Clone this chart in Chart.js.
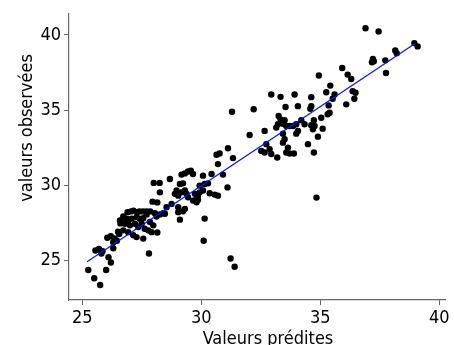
<!DOCTYPE html>
<html lang="fr">
<head>
<meta charset="utf-8">
<script src="https://cdn.jsdelivr.net/npm/chart.js@4/dist/chart.umd.min.js"></script>
<style>
  html, body { margin: 0; padding: 0; background: #fff; }
  #wrap { width: 454px; height: 345px; }
</style>
</head>
<body>
<div id="wrap"><canvas id="grafico" width="454" height="345"></canvas></div>
<script>
const predites = [
  25.25, 25.5, 25.75, 26.0, 26.2, 26.1, 26.3, 25.7, 25.8, 25.85, 25.55, 26.05, 26.2, 26.35, 26.3, 26.6, 26.75,
  26.9, 27.05, 27.15, 27.3, 27.4, 27.55, 27.7, 27.85, 27.8, 28.15, 27.95, 28.15, 28.0, 28.25, 30.1, 27.62,
  26.5, 26.45, 26.55,
  28.26, 28.40, 28.26, 28.12, 28.05, 26.72, 26.86, 26.93, 27.07, 27.28, 27.42, 27.56, 27.70, 26.58, 26.79,
  27.0, 27.21, 27.35, 27.49, 27.84, 27.98, 27.91, 26.72, 26.93, 27.14, 27.28, 27.56, 27.77,
  31.12, 30.64, 30.77, 31.33, 30.70, 28.68, 29.17, 29.31, 29.44, 29.56, 29.65, 30.07, 30.43, 30.91, 29.10,
  29.23, 29.93, 30.14, 30.28, 31.10, 28.96, 28.89, 29.03, 29.17, 29.31, 29.38, 29.44, 29.73, 29.86, 29.80,
  29.93, 30.07, 30.35, 30.56, 30.70, 28.75, 28.54, 28.47, 29.03, 29.31, 29.23, 29.03, 29.10, 30.14, 29.65,
  29.80, 29.86,
  32.94, 33.33, 33.92, 34.62, 33.54, 34.06, 32.20, 31.29, 33.25, 33.33, 33.50, 33.43, 33.57, 33.71, 33.85,
  33.99, 34.20, 34.34, 34.73, 33.22, 33.15, 32.66, 32.03, 34.06, 33.99, 33.43, 33.50, 33.43, 32.73, 32.52,
  32.66, 32.87, 32.94, 33.19, 33.64, 33.57, 33.71, 33.89, 34.48, 34.73,
  37.21, 37.17, 37.25, 35.92, 34.94, 36.15, 36.30, 35.42, 35.25, 35.60, 35.52, 36.36, 36.48, 36.43, 36.09,
  35.35, 34.62, 34.58, 35.39, 35.31, 35.04, 34.62, 34.76, 34.69, 35.10, 34.90,
  36.90, 37.45, 38.95, 39.09, 38.15, 38.21, 37.73, 37.76,
  31.23, 31.40, 34.84,
];
const observees = [
  24.35, 23.8, 23.35, 24.35, 24.85, 25.2, 25.8, 25.75, 25.45, 25.6, 25.65, 26.5, 26.6, 26.45, 26.2, 27.45, 27.5,
  28.2, 28.25, 28.3, 28.2, 28.25, 28.25, 28.25, 28.25, 25.45, 26.85, 28.9, 28.85, 30.15, 30.15, 26.3, 27.10,
  26.9, 26.3, 26.75,
  29.52, 28.13, 28.05, 27.91, 28.13, 27.91, 27.76, 27.65, 27.76, 27.87, 27.76, 27.80, 28.05, 27.65, 27.43,
  27.32, 27.43, 27.21, 27.43, 27.54, 27.32, 26.87, 26.99, 26.87, 26.66, 26.54, 26.44, 26.99,
  32.46, 32.02, 32.11, 31.80, 31.40, 30.41, 30.70, 30.78, 30.91, 30.96, 30.74, 30.63, 30.74, 30.70, 30.08,
  30.12, 29.97, 30.08, 30.12, 29.85, 29.64, 29.42, 29.30, 29.52, 29.64, 29.42, 29.19, 29.42, 29.30, 29.09,
  29.52, 29.64, 29.46, 29.37, 29.30, 28.75, 28.53, 28.09, 28.53, 28.42, 28.26, 28.20, 27.70, 27.77, 28.97,
  28.86, 29.02,
  36.04, 35.88, 36.04, 35.86, 35.20, 35.26, 35.05, 34.89, 34.60, 34.38, 34.32, 34.09, 33.94, 33.94, 33.94,
  34.05, 34.32, 34.05, 34.32, 34.05, 33.83, 33.61, 33.34, 33.61, 33.43, 33.43, 33.06, 32.83, 32.73, 32.28,
  32.17, 32.40, 32.07, 31.84, 32.50, 32.17, 32.11, 32.11, 32.73, 32.17,
  38.40, 38.18, 38.25, 37.80, 37.30, 37.36, 37.07, 36.63, 36.19, 36.04, 35.75, 36.26, 36.15, 35.75, 35.38,
  35.31, 35.26, 35.09, 34.82, 34.72, 34.49, 33.99, 33.94, 33.72, 33.76, 33.23,
  40.45, 40.23, 39.46, 39.24, 38.97, 38.79, 38.31, 37.47,
  25.11, 24.56, 29.17,
];
// droite de régression (extrémités lues)
const droiteX = [25.2, 39.0];
const droiteY = [24.9, 39.45];
const ticksX = [25, 30, 35, 40];
const ticksY = [25, 30, 35, 40];
const titreX = 'Valeurs prédites';
const titreY = 'valeurs observées';

(function () {
  const FONTE = "'DejaVu Sans Condensed', 'DejaVu Sans', sans-serif";
  const TAILLE = 18;
  const GRIS = '#666';
  const pts = predites.map((x, i) => ({ x, y: observees[i] }));
  const droite = droiteX.map((x, i) => ({ x, y: droiteY[i] }));

  const eixo = (ticks, min, max, fit) => ({
    type: 'linear', min, max,
    afterBuildTicks: (s) => { s.ticks = ticks.map(v => ({ value: v })); },
    afterFit: fit,
    grid: { drawOnChartArea: false, drawTicks: true, tickLength: 5, tickColor: GRIS, tickWidth: 1 },
    border: { display: true, color: GRIS, width: 1.2 },
    ticks: { color: '#000', padding: 3, font: { family: FONTE, size: TAILLE } },
  });

  // titres des axes : décalés comme sur la figure d'origine (pas centrés sur la zone)
  const titres = {
    id: 'titres',
    afterDraw(chart) {
      const { ctx, chartArea: a } = chart;
      ctx.save();
      ctx.fillStyle = '#000';
      ctx.font = `${TAILLE}px ${FONTE}`;
      ctx.textAlign = 'center';
      ctx.textBaseline = 'alphabetic';
      ctx.fillText(titreX, (a.left + a.right) / 2 + 11, chart.height - 1);
      ctx.translate(31.5, (a.top + a.bottom) / 2 - 29);
      ctx.rotate(-Math.PI / 2);
      ctx.fillText(titreY, 0, 0);
      ctx.restore();
    },
  };

  new Chart(document.getElementById('grafico'), {
    type: 'scatter',
    data: {
      datasets: [
        { data: droite, showLine: true, borderColor: '#1010ff', borderWidth: 1.3, pointRadius: 0, order: 0 },
        { data: pts, backgroundColor: '#000', borderColor: '#000', pointRadius: 3.2, borderWidth: 0, order: 1 },
      ],
    },
    options: {
      responsive: false, animation: false, devicePixelRatio: 1,
      layout: { padding: { top: 12, right: 9, left: 0, bottom: 0 } },
      plugins: { legend: { display: false }, tooltip: { enabled: false } },
      scales: {
        x: eixo(ticksX, 24.44, 40.24, (s) => { s.height = 45; }),
        y: eixo(ticksY, 22.35, 41.41, (s) => { s.width = 69; }),
      },
    },
    plugins: [titres],
  });
})();
</script>
</body>
</html>
